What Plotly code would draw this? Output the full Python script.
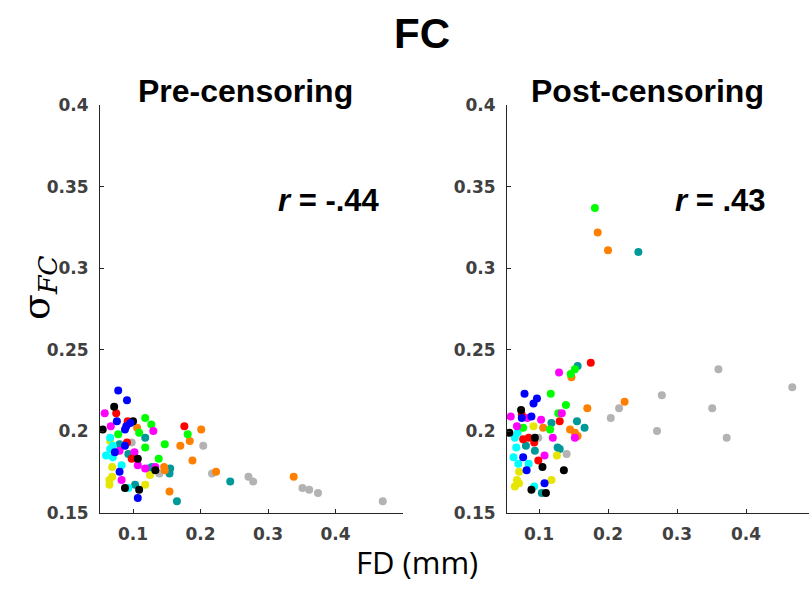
import plotly.graph_objects as go

# ---------------- data (FD in mm, sigma_FC) ----------------
colors = {
    "blue": "#0000FF", "black": "#000000", "red": "#FF0000", "magenta": "#FF00FF",
    "green": "#00FF00", "orange": "#FF8000", "cyan": "#00FFFF", "yellow": "#E6E600",
    "teal": "#00999A", "gray": "#B3B3B3",
}

# Pre-censoring
pre_blue_x = [0.078, 0.091, 0.076, 0.096, 0.090, 0.088, 0.088, 0.073, 0.080, 0.107]
pre_blue_y = [0.225, 0.219, 0.206, 0.205, 0.203, 0.201, 0.191, 0.187, 0.175, 0.159]
pre_black_x = [0.072, 0.100, 0.055, 0.107, 0.088, 0.109, 0.133]
pre_black_y = [0.215, 0.206, 0.201, 0.183, 0.165, 0.164, 0.176]
pre_red_x = [0.075, 0.092, 0.176, 0.091, 0.098]
pre_red_y = [0.211, 0.206, 0.203, 0.193, 0.183]
pre_magenta_x = [0.058, 0.067, 0.130, 0.080, 0.102, 0.107, 0.133, 0.118, 0.083]
pre_magenta_y = [0.211, 0.203, 0.200, 0.188, 0.187, 0.179, 0.178, 0.177, 0.170]
pre_green_x = [0.118, 0.127, 0.181, 0.109, 0.078, 0.147, 0.118, 0.138]
pre_green_y = [0.208, 0.204, 0.198, 0.199, 0.198, 0.192, 0.190, 0.183]
pre_orange_x = [0.106, 0.201, 0.184, 0.170, 0.188, 0.146, 0.147, 0.223, 0.154, 0.338]
pre_orange_y = [0.202, 0.201, 0.194, 0.191, 0.182, 0.178, 0.176, 0.175, 0.163, 0.172]
pre_cyan_x = [0.066, 0.070, 0.066, 0.060, 0.070, 0.083, 0.093]
pre_cyan_y = [0.196, 0.191, 0.189, 0.185, 0.184, 0.179, 0.165]
pre_yellow_x = [0.066, 0.069, 0.125, 0.069, 0.065, 0.065, 0.118]
pre_yellow_y = [0.194, 0.178, 0.173, 0.172, 0.170, 0.167, 0.167]
pre_teal_x = [0.118, 0.080, 0.093, 0.128, 0.123, 0.155, 0.154, 0.103, 0.165, 0.244]
pre_teal_y = [0.196, 0.192, 0.186, 0.178, 0.177, 0.177, 0.174, 0.167, 0.157, 0.169]
pre_gray_x = [0.098, 0.204, 0.139, 0.217, 0.271, 0.278, 0.351, 0.361, 0.374, 0.470]
pre_gray_y = [0.193, 0.191, 0.174, 0.174, 0.172, 0.169, 0.165, 0.164, 0.162, 0.157]

# Post-censoring
post_blue_x = [0.079, 0.097, 0.092, 0.089, 0.075, 0.077, 0.082, 0.108]
post_blue_y = [0.223, 0.220, 0.217, 0.209, 0.208, 0.184, 0.176, 0.168]
post_black_x = [0.074, 0.057, 0.094, 0.105, 0.136, 0.089, 0.110]
post_black_y = [0.213, 0.199, 0.196, 0.178, 0.176, 0.164, 0.162]
post_red_x = [0.175, 0.075, 0.130, 0.085, 0.077, 0.093, 0.099]
post_red_y = [0.242, 0.210, 0.206, 0.196, 0.195, 0.193, 0.182]
post_magenta_x = [0.129, 0.133, 0.059, 0.083, 0.103, 0.068, 0.120, 0.152, 0.108]
post_magenta_y = [0.236, 0.211, 0.209, 0.208, 0.207, 0.203, 0.196, 0.196, 0.185]
post_green_x = [0.181, 0.152, 0.146, 0.117, 0.139, 0.128, 0.077, 0.116]
post_green_y = [0.337, 0.238, 0.235, 0.223, 0.216, 0.211, 0.202, 0.201]
post_orange_x = [0.185, 0.200, 0.147, 0.170, 0.224, 0.106, 0.145, 0.152, 0.156]
post_orange_y = [0.322, 0.311, 0.233, 0.214, 0.218, 0.202, 0.201, 0.199, 0.197]
post_cyan_x = [0.069, 0.065, 0.067, 0.063, 0.070, 0.085, 0.093]
post_cyan_y = [0.199, 0.196, 0.190, 0.184, 0.180, 0.180, 0.166]
post_yellow_x = [0.092, 0.126, 0.071, 0.068, 0.071, 0.065, 0.118]
post_yellow_y = [0.203, 0.185, 0.175, 0.170, 0.168, 0.166, 0.170]
post_teal_x = [0.156, 0.244, 0.118, 0.155, 0.166, 0.081, 0.094, 0.127, 0.130, 0.104]
post_teal_y = [0.240, 0.310, 0.205, 0.206, 0.202, 0.191, 0.188, 0.190, 0.189, 0.162]
post_gray_x = [0.099, 0.140, 0.204, 0.216, 0.271, 0.278, 0.351, 0.360, 0.372, 0.467]
post_gray_y = [0.196, 0.186, 0.208, 0.214, 0.200, 0.222, 0.214, 0.238, 0.196, 0.227]

pre = {
    "blue": (pre_blue_x, pre_blue_y), "black": (pre_black_x, pre_black_y),
    "red": (pre_red_x, pre_red_y), "magenta": (pre_magenta_x, pre_magenta_y),
    "green": (pre_green_x, pre_green_y), "orange": (pre_orange_x, pre_orange_y),
    "cyan": (pre_cyan_x, pre_cyan_y), "yellow": (pre_yellow_x, pre_yellow_y),
    "teal": (pre_teal_x, pre_teal_y), "gray": (pre_gray_x, pre_gray_y),
}
post = {
    "blue": (post_blue_x, post_blue_y), "black": (post_black_x, post_black_y),
    "red": (post_red_x, post_red_y), "magenta": (post_magenta_x, post_magenta_y),
    "green": (post_green_x, post_green_y), "orange": (post_orange_x, post_orange_y),
    "cyan": (post_cyan_x, post_cyan_y), "yellow": (post_yellow_x, post_yellow_y),
    "teal": (post_teal_x, post_teal_y), "gray": (post_gray_x, post_gray_y),
}

x_ticks = [0.1, 0.2, 0.3, 0.4]
x_ticklabels = ["0.1", "0.2", "0.3", "0.4"]
y_ticks = [0.15, 0.2, 0.25, 0.3, 0.35, 0.4]
y_ticklabels = ["0.15", "0.2", "0.25", "0.3", "0.35", "0.4"]

fig = go.Figure()
order = ["gray", "teal", "orange", "yellow", "cyan", "green", "magenta", "red", "black", "blue"]
for name in order:
    xs, ys = pre[name]
    fig.add_trace(go.Scatter(x=xs, y=ys, mode="markers", xaxis="x", yaxis="y",
                             marker=dict(color=colors[name], size=8, line=dict(width=0)),
                             showlegend=False, hoverinfo="x+y"))
for name in order:
    xs, ys = post[name]
    fig.add_trace(go.Scatter(x=xs, y=ys, mode="markers", xaxis="x2", yaxis="y2",
                             marker=dict(color=colors[name], size=8, line=dict(width=0)),
                             showlegend=False, hoverinfo="x+y"))

W, H = 809, 594
# the captured page shows the figure vertically as 9 + 0.9697 * y; compensate
V_OFF, V_SCALE = 9.0, 0.9697


def py(target_px):
    """paper y fraction giving the wanted vertical pixel position in the capture"""
    return 1 - ((target_px - V_OFF) / V_SCALE) / H


tickfont = dict(family="DejaVu Sans", size=17, color="#404040", weight="bold")
axis_common = dict(showline=True, linecolor="#262626", linewidth=1, ticks="inside",
                   ticklen=4, tickcolor="#262626", showgrid=False, zeroline=False,
                   tickfont=tickfont, fixedrange=True)

ydom = [py(513.3), py(104.7)]
fig.update_layout(
    width=W, height=H, margin=dict(l=0, r=0, t=0, b=0),
    paper_bgcolor="white", plot_bgcolor="white",
    xaxis=dict(domain=[100 / W, 403 / W], range=[0.051, 0.5], ticklabelstandoff=6,
               tickvals=x_ticks, ticktext=x_ticklabels, anchor="y", **axis_common),
    yaxis=dict(domain=ydom, range=[0.15, 0.4], tickvals=y_ticks, ticktext=y_ticklabels,
               ticklabelstandoff=7, anchor="x", **axis_common),
    xaxis2=dict(domain=[507 / W, 1.0], range=[0.0536, 0.0536 + 302 / 690], ticklabelstandoff=6,
                tickvals=x_ticks, ticktext=x_ticklabels, anchor="y2", **axis_common),
    yaxis2=dict(domain=ydom, range=[0.15, 0.4], tickvals=y_ticks, ticktext=y_ticklabels,
                ticklabelstandoff=7, anchor="x2", **axis_common),
    showlegend=False,
)

title_font = dict(family="Liberation Sans", color="#000000", weight="bold")
ann = [
    dict(text="FC", x=422 / W, y=py(33), font=dict(size=42, **title_font)),
    dict(text="Pre-censoring", x=245 / W, y=py(90), font=dict(size=32, **title_font)),
    dict(text="Post-censoring", x=647 / W, y=py(90), font=dict(size=32, **title_font)),
    dict(text="<i>r</i> = -.44", x=329 / W, y=py(200), font=dict(size=31, **title_font)),
    dict(text="<i>r</i> = .43", x=720 / W, y=py(200), font=dict(size=31, **title_font)),
    dict(text="σ<sub><i>FC</i></sub>", x=38 / W, y=py(288), textangle=-90,
         font=dict(family="DejaVu Serif", size=38, color="#000000")),
]
for a in ann:
    a.update(xref="paper", yref="paper", showarrow=False, xanchor="center", yanchor="middle")
ann.append(dict(text="FD (mm)", x=417 / W, y=0.0, xref="paper", yref="paper",
                showarrow=False, xanchor="center", yanchor="bottom", borderpad=0,
                font=dict(family="Open Sans", size=31, color="#000000")))
fig.update_layout(annotations=ann)

fig.write_html("out.html")
